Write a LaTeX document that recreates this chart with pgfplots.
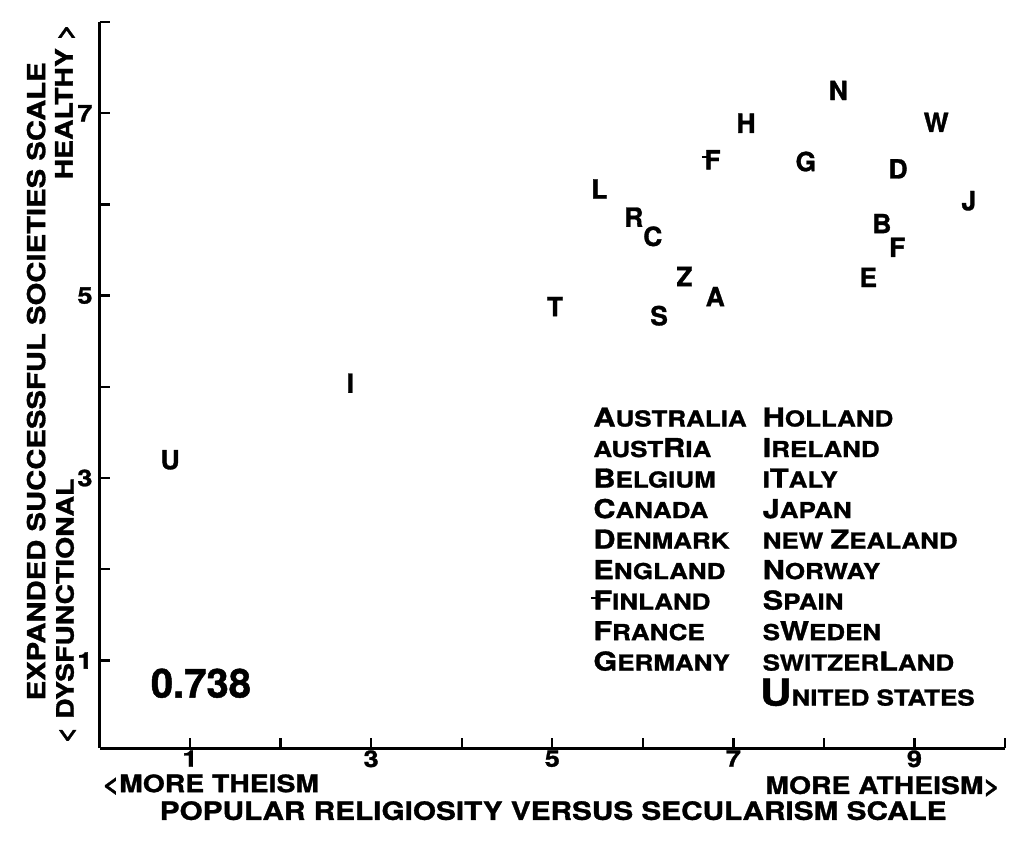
\documentclass[border=0pt]{standalone}
\usepackage{pgfplots}
\pgfplotsset{compat=1.18}
\usepackage{fontspec}
\setmainfont{TeX Gyre Heros}[FakeStretch=1.18, FakeBold=1.2]
\newfontfamily\plainfont{TeX Gyre Heros}[FakeBold=1.2]
% big and small capitals of the key
\newcommand\Bg[1]{{\fontsize{13}{15}\selectfont #1}}
\newcommand\Sm[1]{{\fontsize{11}{13}\selectfont #1}}
% the struck F used for Finland
\newcommand\Fs{\rlap{\kern-0.1em\raisebox{0.42em}{\rule{0.2em}{0.08em}}}F}
\begin{document}
\begin{tikzpicture}
\begin{axis}[
    name=ax,
    scale only axis,
    width=452.6pt, height=362.9pt,
    xmin=0, xmax=10, ymin=0.04, ymax=8,
    axis lines=left,
    axis line style={-, line width=1.5pt},
    xtick={1,...,10}, xticklabels={1,,3,,5,,7,,9,},
    ytick={1,...,8}, yticklabels={1,,3,,5,,7,},
    tick align=inside,
    major tick length=5pt,
    tick style={line width=1.2pt, black},
    ticklabel style={font=\bfseries\fontsize{11.5}{13}\selectfont},
    xticklabel style={inner sep=1pt},
    /pgf/number format/assume math mode=true,
    clip=false,
]
\addplot[only marks, mark=*, mark size=0pt, mark options={draw=none, fill=none},
    point meta=explicit symbolic, nodes near coords,
    nodes near coords style={anchor=center, inner sep=0pt,
        font=\plainfont\bfseries\fontsize{13.2}{15}\selectfont}]
    coordinates {
    (8.16,7.25) [N]
    (7.14,6.89) [H]
    (9.24,6.90) [W]
    (6.77,6.49) [\Fs]
    (7.80,6.47) [G]
    (8.82,6.39) [D]
    (5.52,6.17) [L]
    (9.60,6.04) [J]
    (5.90,5.86) [R]
    (6.11,5.65) [C]
    (8.64,5.79) [B]
    (8.81,5.53) [F]
    (6.46,5.21) [Z]
    (8.49,5.20) [E]
    (6.80,4.99) [A]
    (5.03,4.88) [T]
    (6.18,4.78) [S]
    (2.77,4.04) [I]
    (0.78,3.20) [U]
    };

\node[font=\plainfont\bfseries\fontsize{20}{22}\selectfont, inner sep=0pt]
    at (axis cs:1.12,0.75) {0.738};

% key
\begin{scope}[every node/.style={anchor=base west, inner sep=0pt, font=\bfseries}]
\node at (axis cs:5.45,3.565) {\Bg{A}\Sm{USTRALIA}};
\node at (axis cs:5.45,3.230) {\Sm{AUST}\Bg{R}\Sm{IA}};
\node at (axis cs:5.45,2.896) {\Bg{B}\Sm{ELGIUM}};
\node at (axis cs:5.45,2.561) {\Bg{C}\Sm{ANADA}};
\node at (axis cs:5.45,2.227) {\Bg{D}\Sm{ENMARK}};
\node at (axis cs:5.45,1.892) {\Bg{E}\Sm{NGLAND}};
\node at (axis cs:5.45,1.558) {\Bg{\Fs}\Sm{INLAND}};
\node at (axis cs:5.45,1.223) {\Bg{F}\Sm{RANCE}};
\node at (axis cs:5.45,0.889) {\Bg{G}\Sm{ERMANY}};
\node at (axis cs:7.32,3.565) {\Bg{H}\Sm{OLLAND}};
\node at (axis cs:7.32,3.230) {\Bg{I}\Sm{RELAND}};
\node at (axis cs:7.32,2.896) {\Sm{I}\Bg{T}\Sm{ALY}};
\node at (axis cs:7.32,2.561) {\Bg{J}\Sm{APAN}};
\node at (axis cs:7.32,2.227) {\Sm{NEW }\Bg{Z}\Sm{EALAND}};
\node at (axis cs:7.32,1.892) {\Bg{N}\Sm{ORWAY}};
\node at (axis cs:7.32,1.558) {\Bg{S}\Sm{PAIN}};
\node at (axis cs:7.32,1.223) {\Sm{S}\Bg{W}\Sm{EDEN}};
\node at (axis cs:7.32,0.889) {\Sm{SWITZER}\Bg{L}\Sm{AND}};
\node at (axis cs:7.29,0.505) {{\fontsize{18.5}{20}\selectfont U}\Sm{NITED STATES}};
\end{scope}

% axis titles
\begin{scope}[every node/.style={inner sep=0pt, font=\bfseries\fontsize{12}{14}\selectfont}]
\node[anchor=west] at (axis cs:0.03,-0.36) {<MORE THEISM};
\node[anchor=east] at (axis cs:9.95,-0.38) {MORE ATHEISM>};
\node[anchor=center, font=\bfseries\fontsize{12.6}{14}\selectfont]
    at (axis cs:5.01,-0.647) {POPULAR RELIGIOSITY VERSUS SECULARISM SCALE};
\node[rotate=90, anchor=center, font=\bfseries\fontsize{12.4}{14}\selectfont]
    at (axis cs:-0.70,4.06) {EXPANDED SUCCESSFUL SOCIETIES SCALE};
\node[rotate=90, anchor=west] at (axis cs:-0.37,0.088) {< DYSFUNCTIONAL};
\node[rotate=90, anchor=east] at (axis cs:-0.38,7.985) {HEALTHY >};
\end{scope}
\end{axis}
\pgfresetboundingbox
\path ([xshift=-49.75pt, yshift=-47pt]ax.south west) rectangle ([xshift=9.5pt, yshift=11pt]ax.north east);
\end{tikzpicture}
\end{document}
